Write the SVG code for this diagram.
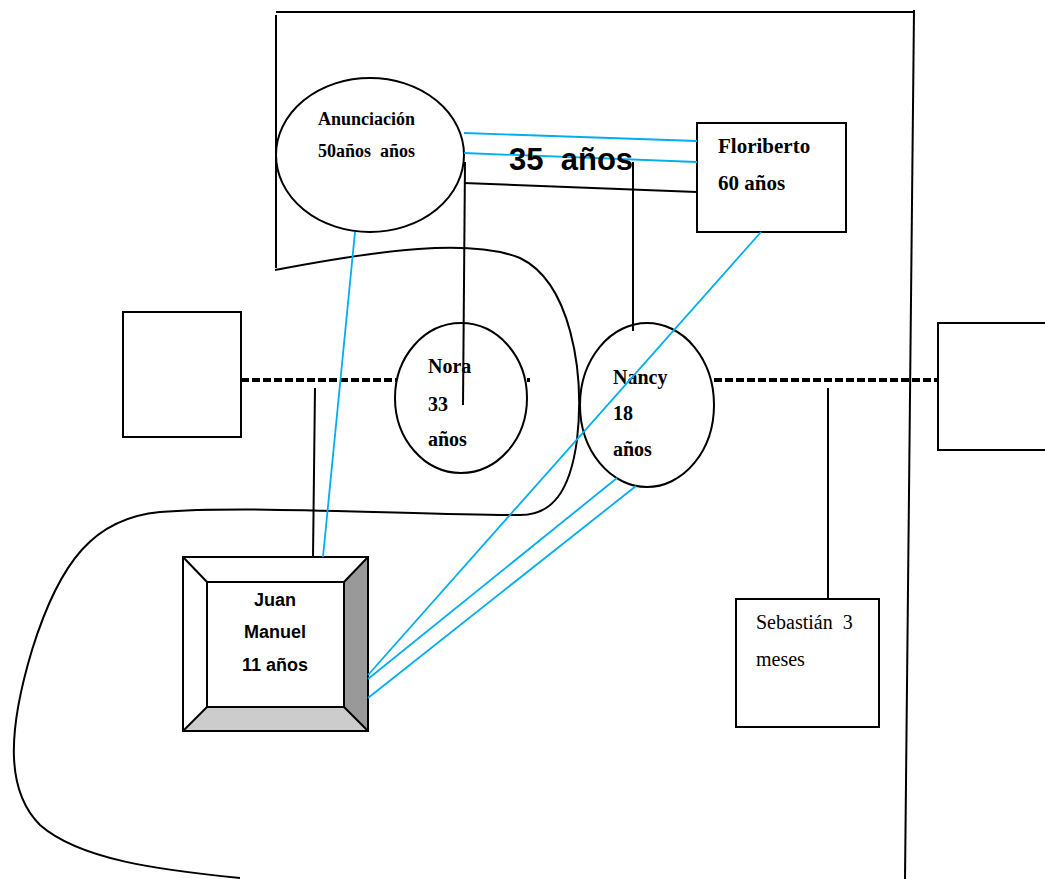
<svg xmlns="http://www.w3.org/2000/svg" width="1045" height="879" viewBox="0 0 1045 879">
<style>
.ln{stroke:#000;stroke-width:2;fill:none}
.bl{stroke:#00AEEF;stroke-width:1.8;fill:none}
.dash{stroke:#000;stroke-width:4;stroke-dasharray:8 3;fill:none}
.shape{fill:#fff;stroke:#000;stroke-width:2}
.tb{font-family:"Liberation Serif",serif;font-weight:bold;font-size:20px;fill:#000}
.tn{font-family:"Liberation Serif",serif;font-size:20px;fill:#000}
.ta{font-family:"Liberation Sans",sans-serif;font-weight:bold;font-size:18px;fill:#000}
</style>
<rect width="1045" height="879" fill="#fff"/>
<g id="frame">
<line class="ln" x1="276" y1="12" x2="914" y2="12"/>
<line class="ln" x1="276" y1="15" x2="276" y2="268"/>
<line class="ln" x1="914" y1="10" x2="905" y2="879"/>
<path class="ln" d="M275,270 C380,250 470,238 520,258 C570,282 585,370 577,440 C570,492 552,515 520,515 C420,515 250,505 160,512 C95,518 60,560 32,650 C8,730 5,790 40,825 C80,860 160,870 240,878"/>
</g>
<g id="connectors">
<line class="dash" x1="241" y1="380" x2="530" y2="380"/>
<line class="dash" x1="714" y1="380" x2="938" y2="380"/>
</g>
<g id="anunciacion">
<ellipse class="shape" cx="370" cy="155" rx="94" ry="77"/>
<text class="tb" x="318" y="125" font-size="18" style="font-size:18px">Anunciación</text>
<text class="tb" x="318" y="157" style="font-size:18px" xml:space="preserve">50años  años</text>
</g>
<g id="floriberto">
<rect class="shape" x="697" y="123" width="149" height="109"/>
<text class="tb" x="718" y="153" style="font-size:21px">Floriberto</text>
<text class="tb" x="718" y="190" style="font-size:21px">60 años</text>
</g>
<g id="left-box"><rect class="shape" x="123" y="312" width="118" height="125"/></g>
<g id="right-box"><rect class="shape" x="938" y="323" width="110" height="127"/></g>
<g id="nora">
<ellipse class="shape" cx="461" cy="398" rx="66" ry="75"/>
<text class="tb" x="428" y="373">Nora</text>
<text class="tb" x="428" y="411">33</text>
<text class="tb" x="428" y="446">años</text>
</g>
<g id="nancy">
<ellipse class="shape" cx="647" cy="405" rx="67" ry="82"/>
<text class="tb" x="613" y="384">Nancy</text>
<text class="tb" x="613" y="420">18</text>
<text class="tb" x="613" y="456">años</text>
</g>
<g id="juan-manuel">
<rect x="183" y="557" width="185" height="174" fill="#fff"/>
<polygon points="344,582 368,557 368,731 344,707" fill="#999"/>
<polygon points="207,707 344,707 368,731 183,731" fill="#ccc"/>
<rect x="183" y="557" width="185" height="174" fill="none" stroke="#000" stroke-width="2"/>
<rect x="207" y="582" width="137" height="125" fill="#fff" stroke="#000" stroke-width="2"/>
<line class="ln" x1="183" y1="557" x2="207" y2="582"/>
<line class="ln" x1="368" y1="557" x2="344" y2="582"/>
<line class="ln" x1="183" y1="731" x2="207" y2="707"/>
<line class="ln" x1="368" y1="731" x2="344" y2="707"/>
<text class="ta" x="275" y="606" text-anchor="middle">Juan</text>
<text class="ta" x="275" y="638" text-anchor="middle">Manuel</text>
<text class="ta" x="275" y="671" text-anchor="middle">11 años</text>
</g>
<g id="sebastian">
<rect class="shape" x="736" y="599" width="143" height="128"/>
<text class="tn" x="756" y="629" xml:space="preserve">Sebastián  3</text>
<text class="tn" x="756" y="666">meses</text>
</g>
<g id="links">
<line class="bl" x1="464" y1="133" x2="697" y2="141"/>
<line class="bl" x1="464" y1="153" x2="697" y2="162"/>
<line class="ln" x1="464" y1="183" x2="697" y2="192"/>
<line class="ln" x1="465" y1="162" x2="463" y2="405"/>
<line class="ln" x1="633" y1="162" x2="633" y2="331"/>
<line class="bl" x1="761" y1="232" x2="368" y2="675"/>
<line class="bl" x1="355" y1="232" x2="323" y2="557"/>
<line class="ln" x1="315" y1="388" x2="313" y2="557"/>
<line class="ln" x1="828" y1="388" x2="828" y2="599"/>
<line class="bl" x1="617" y1="478" x2="368" y2="679"/>
<line class="bl" x1="636" y1="486" x2="368" y2="698"/>
</g>
<g id="label-35">
<text x="509" y="170" style="font-family:'Liberation Sans',sans-serif;font-weight:bold;font-size:31px" xml:space="preserve">35  años</text>
</g>
</svg>
